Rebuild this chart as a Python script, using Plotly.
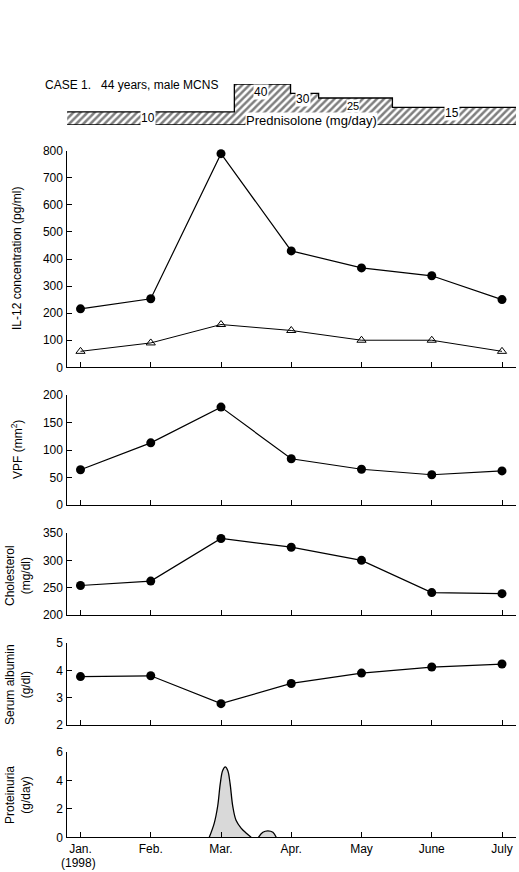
import plotly.graph_objects as go

# ---------------- data ----------------
months = [0, 1, 2, 3, 4, 5, 6]
month_labels = ["Jan.", "Feb.", "Mar.", "Apr.", "May", "June", "July"]
year_label = "(1998)"

il12_filled = [216, 253, 789, 430, 367, 338, 250]
il12_open = [59, 90, 158, 136, 100, 100, 59]
vpf = [64, 113, 178, 84, 65, 55, 62]
cholesterol = [254, 262, 340, 324, 300, 241, 239]
albumin = [3.77, 3.8, 2.78, 3.52, 3.9, 4.12, 4.23]

prot_t = [1.833, 1.904, 1.953, 1.99, 2.024, 2.061, 2.096, 2.129, 2.167, 2.214, 2.286, 2.357, 2.429]
prot_v = [0, 1.0, 2.2, 3.8, 4.7, 4.95, 4.7, 3.8, 2.2, 1.2, 0.65, 0.3, 0]
bump_t = [2.533, 2.596, 2.667, 2.739, 2.786]
bump_v = [0, 0.35, 0.45, 0.35, 0]

pred_start = [-0.19, 2.19, 2.99, 3.39, 4.44]
pred_dose = [10, 40, 30, 25, 15]
pred_end = 6.199
pred_floor = -4

# ---------------- layout helpers ----------------
W, H = 519, 872
X0, X1 = 66.5, 516
JAN_PX, STEP = 80.5, 70.25
FONT = "Liberation Sans, Arial, sans-serif"
xrange_ = [(X0 - JAN_PX) / STEP, (X1 - JAN_PX) / STEP]


def ydom(top_px, bot_px):
    return [1 - bot_px / H, 1 - top_px / H]


fig = go.Figure()

# Prednisolone step band
px = pred_start + [pred_end]
py = pred_dose + [pred_dose[-1]]
fig.add_trace(go.Scatter(x=[pred_start[0], pred_end], y=[pred_floor, pred_floor], mode="lines",
                         line=dict(color="black", width=1.5), xaxis="x6", yaxis="y6",
                         showlegend=False, hoverinfo="skip", cliponaxis=False))
fig.add_trace(go.Scatter(x=px, y=py, mode="lines", line=dict(color="black", width=1.3, shape="hv"),
                         fill="tonexty", fillcolor="white",
                         fillpattern=dict(shape="/", fgcolor="black", bgcolor="white", size=5, solidity=0.5),
                         xaxis="x6", yaxis="y6", showlegend=False, hoverinfo="skip", cliponaxis=False))

dot = dict(symbol="circle", size=9, color="black")

# IL-12
fig.add_trace(go.Scatter(x=months, y=il12_filled, mode="lines+markers",
                         line=dict(color="black", width=1.2), marker=dot, cliponaxis=False,
                         xaxis="x", yaxis="y", showlegend=False))
fig.add_trace(go.Scatter(x=months, y=il12_open, mode="lines+markers",
                         line=dict(color="black", width=1), cliponaxis=False,
                         marker=dict(symbol="triangle-up-open", size=8, color="black", line=dict(width=1)),
                         xaxis="x", yaxis="y", showlegend=False))
# VPF
fig.add_trace(go.Scatter(x=months, y=vpf, mode="lines+markers", line=dict(color="black", width=1.2),
                         marker=dot, cliponaxis=False, xaxis="x2", yaxis="y2", showlegend=False))
# Cholesterol
fig.add_trace(go.Scatter(x=months, y=cholesterol, mode="lines+markers", line=dict(color="black", width=1.2),
                         marker=dot, cliponaxis=False, xaxis="x3", yaxis="y3", showlegend=False))
# Albumin
fig.add_trace(go.Scatter(x=months, y=albumin, mode="lines+markers", line=dict(color="black", width=1.2),
                         marker=dot, cliponaxis=False, xaxis="x4", yaxis="y4", showlegend=False))
# Proteinuria
for tt, vv in ((prot_t, prot_v), (bump_t, bump_v)):
    fig.add_trace(go.Scatter(x=tt, y=vv, mode="lines", line=dict(color="black", width=1.3, shape="spline"),
                             fill="tozeroy", fillcolor="#d9d9d9",
                             xaxis="x5", yaxis="y5", showlegend=False))

panels = [
    ("", 150.7, 367.3, [0, 800], 100),
    ("2", 395, 505, [0, 200], 50),
    ("3", 533, 615, [200, 350], 50),
    ("4", 643, 725, [2, 5], 1),
    ("5", 752, 837.3, [0, 6], 2),
]

xdom = [X0 / W, X1 / W]
lay = dict(width=W, height=H, margin=dict(l=0, r=0, t=0, b=0, autoexpand=False),
           paper_bgcolor="white", plot_bgcolor="white",
           font=dict(family=FONT, size=12, color="black"), showlegend=False)

for i, (s, top, bot, rng, dt) in enumerate(panels):
    last = s == "5"
    lay["xaxis" + s] = dict(domain=xdom, range=xrange_, anchor="y" + s, showline=True, linecolor="black",
                            linewidth=1.3, showgrid=False, zeroline=False, ticks="inside", ticklen=5,
                            tickwidth=1, tickcolor="black", tickvals=months,
                            ticktext=month_labels if last else None, showticklabels=last,
                            tickfont=dict(size=12, family=FONT), automargin=False)
    lay["yaxis" + s] = dict(domain=ydom(top, bot), range=rng, anchor="x" + s, showline=True,
                            linecolor="black", linewidth=1.3, showgrid=False, zeroline=False,
                            ticks="inside", ticklen=5, tickwidth=1, tickcolor="black", dtick=dt,
                            tick0=rng[0], tickfont=dict(size=12, family=FONT), automargin=False)

lay["xaxis6"] = dict(domain=xdom, range=xrange_, anchor="y6", visible=False)
lay["yaxis6"] = dict(domain=ydom(84, 125), range=[pred_floor, 40], anchor="x6", visible=False)

fig.update_layout(**lay)

ann = []


def a(text, xpx, ypx, size=12, angle=0, bg=None, align="center"):
    d = dict(text=text, x=xpx / W, y=1 - ypx / H, xref="paper", yref="paper", showarrow=False,
             font=dict(size=size, family=FONT, color="black"), textangle=angle, align=align,
             xanchor="center", yanchor="middle")
    if bg:
        d.update(bgcolor=bg, borderpad=0)
    ann.append(d)


a("CASE 1.   44 years, male MCNS", 131, 85)
a("10", 148, 118, bg="white")
a("40", 261, 92, bg="white")
a("30", 303, 99, bg="white")
a("25", 353, 106, size=11, bg="white")
a("15", 452, 113, bg="white")
a("Prednisolone (mg/day)", 311, 120, size=13, bg="white")
a(year_label, 78.5, 862.5)

a("IL-12 concentration (pg/ml)", 17, 259, angle=-90)
a("VPF (mm<sup>2</sup>)", 17, 450, angle=-90)
a("Cholesterol<br>(mg/dl)", 18, 575, angle=-90)
a("Serum albumin<br>(g/dl)", 18, 684, angle=-90)
a("Proteinuria<br>(g/day)", 18, 795, angle=-90)

fig.update_layout(annotations=ann)
fig.write_html("out.html", config={"displayModeBar": False},
               post_script="document.body.style.margin='0';document.body.style.padding='0';"
                           "document.documentElement.style.overflow='hidden';"
                           "document.body.style.overflow='hidden';")
